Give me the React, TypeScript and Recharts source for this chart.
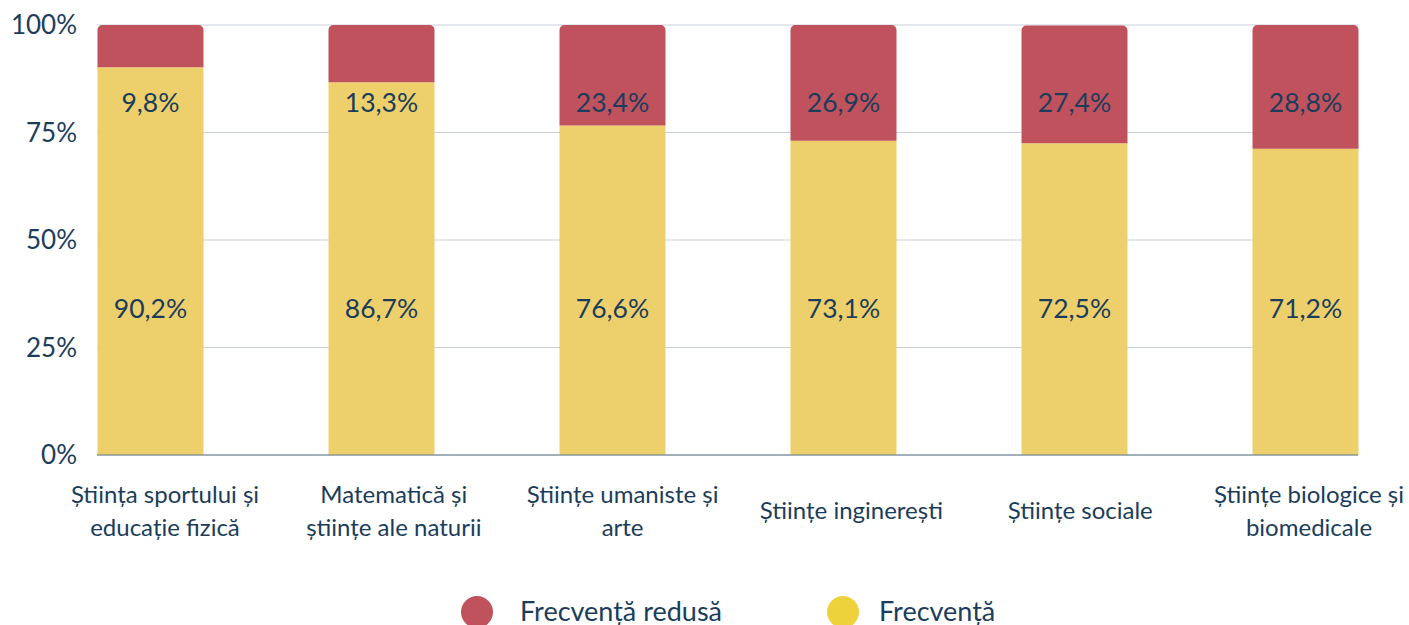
import { BarChart, Bar, XAxis, YAxis, CartesianGrid, LabelList } from "recharts";

const categories = [
    "Știința sportului și\neducație fizică",
    "Matematică și\nștiințe ale naturii",
    "Științe umaniste și\narte",
    "Științe inginerești",
    "Științe sociale",
    "Științe biologice și\nbiomedicale",
];
const frecventa = [90.2, 86.7, 76.6, 73.1, 72.5, 71.2];
const frecventaRedusa = [9.8, 13.3, 23.4, 26.9, 27.4, 28.8];
const yTicks = [0, 25, 50, 75, 100];

const RED = "#BF525C";
const YELLOW = "#EDD06C";
const TEXT = "#1B3D5B";
const FONT = "Lato, 'Open Sans', sans-serif";

const W = 1409;
const H = 625;
const PLOT_TOP = 25;
const PLOT_H = 430;

const data = categories.map((name, i) => ({
    idx: i,
    name,
    frecventa: frecventa[i],
    redusa: frecventaRedusa[i],
}));

const fmt = (v: number) => v.toFixed(1).replace(".", ",") + "%";

// labels sit at fixed heights in the original, not segment centres
const RedLabel = (props: any) => {
    const { x, width, value } = props;
    return (
        <text x={x + width / 2} y={PLOT_TOP + PLOT_H * 0.18} textAnchor="middle" dominantBaseline="central"
            fontSize={26.5} fill={TEXT} fontFamily={FONT}>
            {fmt(value)}
        </text>
    );
};

const YellowLabel = (props: any) => {
    const { x, width, value } = props;
    return (
        <text x={x + width / 2} y={PLOT_TOP + PLOT_H * 0.658} textAnchor="middle" dominantBaseline="central"
            fontSize={26.5} fill={TEXT} fontFamily={FONT}>
            {fmt(value)}
        </text>
    );
};

// category labels drift slightly right of the bars in the original
const CategoryTick = (props: any) => {
    const { x, y, payload } = props;
    const i = payload.value;
    const cx = x + 15 - 2.2 * i;
    const lines = categories[i].split("\n");
    if (lines.length === 1) {
        return (
            <text x={cx} y={y + 64} textAnchor="middle" fontSize={24} fill={TEXT} fontFamily={FONT}>
                {lines[0]}
            </text>
        );
    }
    return (
        <text x={cx} textAnchor="middle" fontSize={24} fill={TEXT} fontFamily={FONT}>
            <tspan x={cx} y={y + 48}>{lines[0]}</tspan>
            <tspan x={cx} y={y + 81}>{lines[1]}</tspan>
        </text>
    );
};

export default function App() {
    return (
        <div style={{ position: "absolute", left: 0, top: 0, width: W, height: H, overflow: "hidden", background: "#fff" }}>
            <BarChart width={W} height={H} data={data} margin={{ top: PLOT_TOP, right: 51, left: 0, bottom: 0 }}>
                <CartesianGrid vertical={false} stroke="#C9D0D8" />
                <XAxis
                    dataKey="idx"
                    type="number"
                    domain={[-0.2294, 5.2294]}
                    ticks={[0, 1, 2, 3, 4, 5]}
                    interval={0}
                    height={H - PLOT_TOP - PLOT_H}
                    tickLine={false}
                    tickSize={0}
                    tickMargin={0}
                    stroke="#5E7B8C"
                    tick={<CategoryTick />}
                />
                <YAxis
                    domain={[0, 100]}
                    ticks={yTicks}
                    width={97}
                    axisLine={false}
                    tickLine={false}
                    tickSize={8}
                    tickMargin={12}
                    tickFormatter={(v) => `${v}%`}
                    tick={{ fontSize: 26, fill: TEXT, fontFamily: FONT }}
                />
                <Bar dataKey="frecventa" stackId="a" fill={YELLOW} barSize={106} isAnimationActive={false}>
                    <LabelList dataKey="frecventa" content={<YellowLabel />} />
                </Bar>
                <Bar dataKey="redusa" stackId="a" fill={RED} barSize={106} radius={[5, 5, 0, 0]} isAnimationActive={false}>
                    <LabelList dataKey="redusa" content={<RedLabel />} />
                </Bar>
            </BarChart>
            <svg width={W} height={H} style={{ position: "absolute", left: 0, top: 0, pointerEvents: "none" }}>
                <circle cx={477} cy={612} r={16} fill={RED} />
                <text x={520} y={621} fontSize={27} fill={TEXT} fontFamily={FONT}>Frecvență redusă</text>
                <circle cx={843} cy={612} r={16} fill="#EED23C" />
                <text x={879} y={621} fontSize={27} fill={TEXT} fontFamily={FONT}>Frecvență</text>
            </svg>
        </div>
    );
}
